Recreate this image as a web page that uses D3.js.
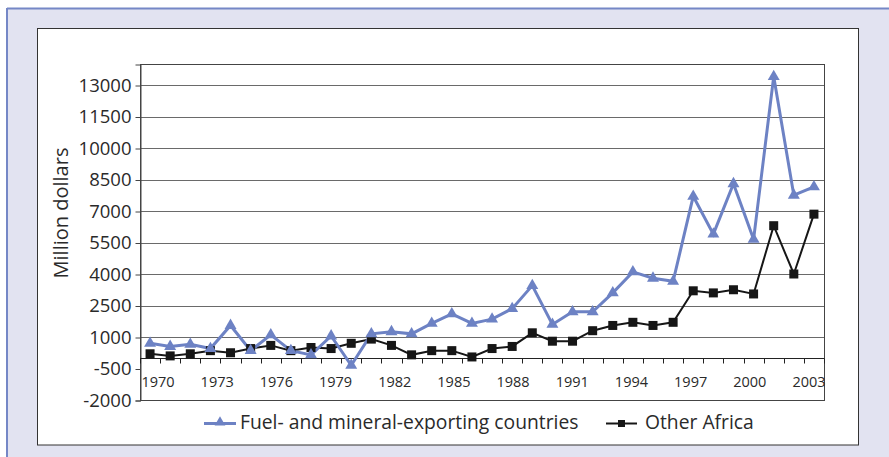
<!DOCTYPE html>
<html>
<head>
<meta charset="utf-8">
<script src="https://cdn.jsdelivr.net/npm/d3@7"></script>
<style>
  body { margin: 0; background: #fff; }
  svg { display: block; font-family: "Open Sans", Lato, sans-serif; }
</style>
</head>
<body>
<svg width="889" height="457"></svg>
<script>
const years = d3.range(1970, 2004);

const fuel = [700, 550, 650, 450, 1550, 350, 1100, 350, 150, 1050,
  -350, 1150, 1250, 1150, 1650, 2100, 1650, 1850, 2350, 3450,
  1600, 2200, 2200, 3100, 4100, 3800, 3650, 7700, 5900, 8300,
  5650, 13400, 7750, 8150];

const other = [200, 100, 200, 350, 250, 450, 600, 350, 500, 450,
  700, 900, 600, 150, 350, 350, 50, 450, 550, 1200,
  800, 800, 1300, 1550, 1700, 1550, 1700, 3200, 3100, 3250,
  3050, 6300, 4000, 6850];

const yTicks = [-2000, -500, 1000, 2500, 4000, 5500, 7000, 8500, 10000, 11500, 13000];
const gridValues = [1000, 2500, 4000, 5500, 7000, 8500, 10000, 11500, 13000];
const xLabels = [1970, 1973, 1976, 1979, 1982, 1985, 1988, 1991, 1994, 1997, 2000, 2003];

const seriesNames = ['Fuel- and mineral-exporting countries', 'Other Africa'];

const blue = '#6d82c4';
const dark = '#161616';

const svg = d3.select('svg');

// outer panel
svg.append('rect').attr('x', 7).attr('y', 8).attr('width', 900).attr('height', 460)
  .attr('fill', '#e2e3f1');
svg.append('line').attr('x1', 7).attr('x2', 889).attr('y1', 8.5).attr('y2', 8.5)
  .attr('stroke', '#7587c6').attr('stroke-width', 2);
svg.append('line').attr('x1', 7).attr('x2', 7).attr('y1', 8).attr('y2', 457)
  .attr('stroke', '#7587c6').attr('stroke-width', 2);

// white chart box
svg.append('rect').attr('x', 37.5).attr('y', 28.5).attr('width', 821).attr('height', 416.5)
  .attr('fill', '#fff').attr('stroke', '#333').attr('stroke-width', 1);

const pLeft = 140, pRight = 824, pTop = 64, pBottom = 400;

const x = d3.scaleBand().domain(years).range([pLeft, pRight]);
const y = d3.scaleLinear().domain([-2000, 14000]).range([pBottom, pTop]);
const xLab = d3.scaleLinear().domain([1970, 2003]).range([158, 809]);

// gridlines
svg.append('g').selectAll('line').data(gridValues).enter().append('line')
  .attr('x1', pLeft).attr('x2', pRight)
  .attr('y1', d => Math.round(y(d)) + 0.5).attr('y2', d => Math.round(y(d)) + 0.5)
  .attr('stroke', '#6a6a6a').attr('stroke-width', 1);

// plot frame
svg.append('rect').attr('x', pLeft + 0.5).attr('y', pTop + 0.5)
  .attr('width', pRight - pLeft).attr('height', pBottom - pTop)
  .attr('fill', 'none').attr('stroke', '#444');

// y axis
const yAxis = svg.append('g')
  .attr('transform', 'translate(' + (pLeft + 0.5) + ',0.5)')
  .call(d3.axisLeft(y).tickValues(yTicks).tickSize(5).tickPadding(4).tickFormat(d => String(d)));
yAxis.select('.domain').attr('stroke', '#444');
yAxis.selectAll('.tick line').attr('stroke', '#444');
yAxis.selectAll('.tick text').attr('font-size', 18.5).attr('fill', '#2a2a2a')
  .attr('font-family', '"Open Sans", sans-serif');

// x axis at zero with ticks on band edges
const y0 = Math.round(y(0)) + 0.5;
svg.append('line').attr('x1', pLeft).attr('x2', pRight).attr('y1', y0).attr('y2', y0)
  .attr('stroke', '#222');
const edges = years.map(d => x(d)).concat([pRight]);
svg.append('g').selectAll('line').data(edges).enter().append('line')
  .attr('x1', d => Math.round(d) + 0.5).attr('x2', d => Math.round(d) + 0.5)
  .attr('y1', y0).attr('y2', y0 + 5)
  .attr('stroke', '#222');

svg.append('g').selectAll('text').data(xLabels).enter().append('text')
  .attr('x', d => xLab(d)).attr('y', 387)
  .attr('text-anchor', 'middle')
  .attr('font-size', 14.5).attr('fill', '#2a2a2a')
  .text(d => d);

// axis title
svg.append('text')
  .attr('transform', 'translate(68,213) rotate(-90)')
  .attr('text-anchor', 'middle')
  .attr('font-size', 20).attr('fill', '#2a2a2a')
  .text('Million dollars');

// lines
const line = d3.line().x((d, i) => x(years[i]) + x.bandwidth() / 2).y(d => y(d));

svg.append('path').datum(other).attr('d', line)
  .attr('fill', 'none').attr('stroke', dark).attr('stroke-width', 2);
svg.append('path').datum(fuel).attr('d', line)
  .attr('fill', 'none').attr('stroke', blue).attr('stroke-width', 3);

const tri = d3.symbol().type(d3.symbolTriangle).size(62);

svg.append('g').selectAll('rect').data(other).enter().append('rect')
  .attr('x', (d, i) => x(years[i]) + x.bandwidth() / 2 - 4.5)
  .attr('y', d => y(d) - 4.5)
  .attr('width', 9).attr('height', 9)
  .attr('fill', dark);

svg.append('g').selectAll('path').data(fuel).enter().append('path')
  .attr('d', tri)
  .attr('transform', (d, i) => 'translate(' + (x(years[i]) + x.bandwidth() / 2) + ',' + y(d) + ')')
  .attr('fill', blue);

// legend
const legend = [
  {name: seriesNames[0], x0: 204, x1: 236, tx: 240, color: blue, w: 3, marker: 'tri'},
  {name: seriesNames[1], x0: 606, x1: 637, tx: 645, color: dark, w: 2, marker: 'sq'}
];
const ly = 423.5;
const lg = svg.append('g').selectAll('g').data(legend).enter().append('g');
lg.append('line').attr('x1', d => d.x0).attr('x2', d => d.x1).attr('y1', ly).attr('y2', ly)
  .attr('stroke', d => d.color).attr('stroke-width', d => d.w);
lg.filter(d => d.marker === 'tri').append('path')
  .attr('d', d3.symbol().type(d3.symbolTriangle).size(50))
  .attr('transform', d => 'translate(' + (d.x0 + d.x1) / 2 + ',' + (ly - 1) + ')')
  .attr('fill', d => d.color);
lg.filter(d => d.marker === 'sq').append('rect')
  .attr('x', d => (d.x0 + d.x1) / 2 - 3.5).attr('y', ly - 3.5)
  .attr('width', 7).attr('height', 7).attr('fill', d => d.color);
lg.append('text').attr('x', d => d.tx).attr('y', ly + 5)
  .attr('font-size', 19.3).attr('fill', '#2a2a2a')
  .text(d => d.name);
</script>
</body>
</html>
